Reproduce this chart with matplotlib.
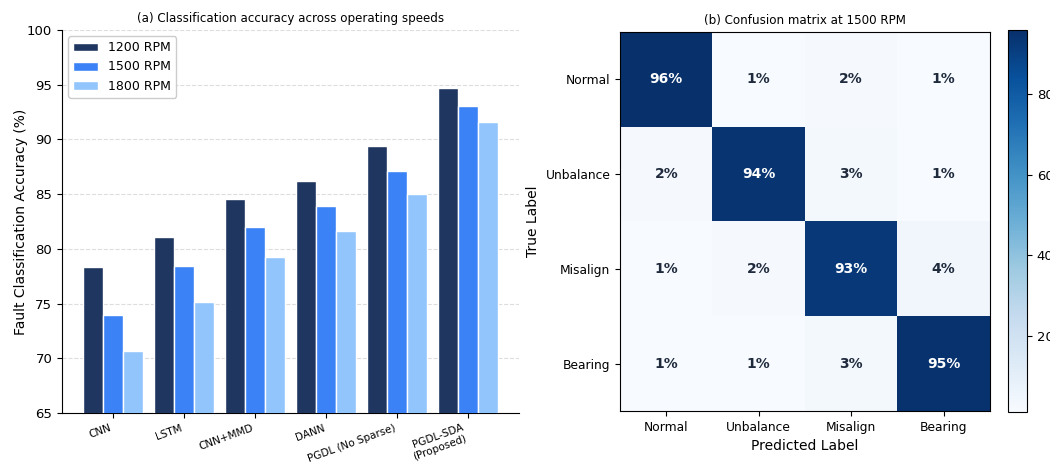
import matplotlib
matplotlib.use("Agg")
import matplotlib.pyplot as plt
import numpy as np

# accuracy per method and speed
methods = ["CNN", "LSTM", "CNN+MMD", "DANN", "PGDL (No Sparse)", "PGDL-SDA\n(Proposed)"]
acc_1200 = [78.3, 81.1, 84.6, 86.2, 89.4, 94.7]
acc_1500 = [74.0, 78.4, 82.0, 83.9, 87.1, 93.1]
acc_1800 = [70.7, 75.1, 79.3, 81.6, 85.0, 91.6]
speed_labels = ["1200 RPM", "1500 RPM", "1800 RPM"]
speed_colors = ["#1f3661", "#3b82f6", "#93c5fd"]

# confusion matrix at 1500 rpm (%)
classes = ["Normal", "Unbalance", "Misalign", "Bearing"]
cm = np.array([[96, 1, 2, 1],
               [2, 94, 3, 1],
               [1, 2, 93, 4],
               [1, 1, 3, 95]])

fig = plt.figure(figsize=(10.5, 4.62), dpi=100)
ax = fig.add_axes([62/1050, 49/462, 457/1050, 383/462])
ax2 = fig.add_axes([620/1050, 51/462, 370/1050, 379/462])
cax = fig.add_axes([1008/1050, 50/462, 19/1050, 382/462])

x = np.arange(len(methods))
w = 0.28
for i, (vals, lab, col) in enumerate(zip([acc_1200, acc_1500, acc_1800], speed_labels, speed_colors)):
    ax.bar(x + (i - 1) * w, vals, w, label=lab, color=col, edgecolor="white", linewidth=1.0, zorder=3)

ax.set_ylim(65, 100)
ax.set_yticks(np.arange(65, 101, 5))
ax.set_xticks(x)
ax.set_xticklabels(methods, rotation=20, ha="right", fontsize=7.5)
ax.tick_params(axis="y", labelsize=9.5)
ax.set_ylabel("Fault Classification Accuracy (%)", fontsize=10, labelpad=-1)
ax.set_title("(a) Classification accuracy across operating speeds", fontsize=8.6)
ax.grid(axis="y", linestyle="--", color="#dddddd", linewidth=0.8, zorder=0)
ax.spines["top"].set_visible(False)
ax.spines["right"].set_visible(False)
ax.legend(loc="upper left", fontsize=9, framealpha=1)

im = ax2.imshow(cm, cmap="Blues", aspect="auto", vmin=cm.min(), vmax=cm.max())
for r in range(cm.shape[0]):
    for c in range(cm.shape[1]):
        v = cm[r, c]
        ax2.text(c, r, f"{v}%", ha="center", va="center", fontsize=10, fontweight="bold",
                 color="white" if v > 50 else "#1f2a3c")
ax2.set_xticks(range(len(classes)))
ax2.set_xticklabels(classes, fontsize=8.8)
ax2.set_yticks(range(len(classes)))
ax2.set_yticklabels(classes, fontsize=8.8)
ax2.set_xlabel("Predicted Label", fontsize=10)
ax2.set_ylabel("True Label", fontsize=10)
ax2.set_title("(b) Confusion matrix at 1500 RPM", fontsize=8.6)

cb = fig.colorbar(im, cax=cax)
cb.set_ticks([20, 40, 60, 80])
cb.ax.tick_params(labelsize=9.5)

fig.savefig("out.png", dpi=100)
